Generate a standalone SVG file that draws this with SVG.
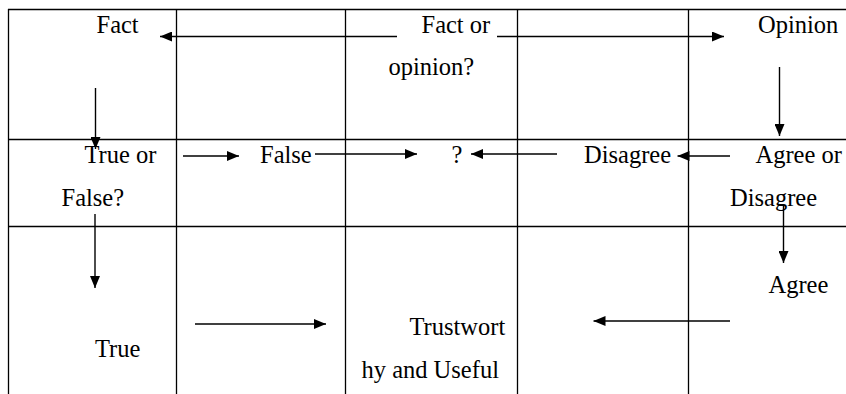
<svg xmlns="http://www.w3.org/2000/svg" width="846" height="394" viewBox="0 0 846 394">
<style>
.grid line{stroke:#000;stroke-width:1.3}
text{font-family:'Liberation Serif','Times New Roman',serif;font-size:24.5px;fill:#000}
.c line{stroke:#000;stroke-width:1.4;marker-end:url(#ah)}
</style>
<defs>
<marker id="ah" markerUnits="userSpaceOnUse" markerWidth="12" markerHeight="10" refX="12" refY="5" orient="auto">
<path d="M0,0 L12,5 L0,10 z" fill="#000"/>
</marker>
</defs>
<rect width="846" height="394" fill="#fff"/>
<g class="grid" id="table">
<line x1="8" y1="9.5" x2="846" y2="9.5"/>
<line x1="8" y1="139.5" x2="846" y2="139.5"/>
<line x1="8" y1="226.5" x2="846" y2="226.5"/>
<line x1="8.5" y1="9" x2="8.5" y2="394"/>
<line x1="176.5" y1="9" x2="176.5" y2="394"/>
<line x1="345.5" y1="9" x2="345.5" y2="394"/>
<line x1="517.5" y1="9" x2="517.5" y2="394"/>
<line x1="688.5" y1="9" x2="688.5" y2="394"/>
</g>
<g id="node-fact"><text x="96.5" y="33">Fact</text></g>
<g id="node-fact-or-opinion"><text x="421.5" y="33">Fact or</text><text x="388.5" y="75">opinion?</text></g>
<g id="node-opinion"><text x="758" y="33">Opinion</text></g>
<g id="node-true-or-false"><text x="84.5" y="163">True or</text><text x="61.5" y="206">False?</text></g>
<g id="node-false"><text x="260" y="163">False</text></g>
<g id="node-question"><text x="451.5" y="163">?</text></g>
<g id="node-disagree"><text x="584" y="163">Disagree</text></g>
<g id="node-agree-or-disagree"><text x="755.5" y="163">Agree or</text><text x="730" y="206">Disagree</text></g>
<g id="node-agree"><text x="768.5" y="293">Agree</text></g>
<g id="node-true"><text x="95" y="357">True</text></g>
<g id="node-trustworthy"><text x="409.5" y="335">Trustwort</text><text x="361.5" y="378">hy and Useful</text></g>
<g class="c" id="connectors">
<line x1="397" y1="36.5" x2="160" y2="36.5"/>
<line x1="497" y1="36.5" x2="724" y2="36.5"/>
<line x1="95.5" y1="88" x2="95.5" y2="149"/>
<line x1="779.5" y1="67" x2="779.5" y2="136"/>
<line x1="183" y1="156" x2="239" y2="156"/>
<line x1="315" y1="154" x2="417" y2="154"/>
<line x1="557" y1="154" x2="471" y2="154"/>
<line x1="730" y1="156" x2="677.5" y2="156"/>
<line x1="783.5" y1="204" x2="783.5" y2="263"/>
<line x1="95" y1="214" x2="95" y2="288"/>
<line x1="195" y1="324" x2="326" y2="324"/>
<line x1="730" y1="321" x2="593.5" y2="321"/>
</g>
</svg>
